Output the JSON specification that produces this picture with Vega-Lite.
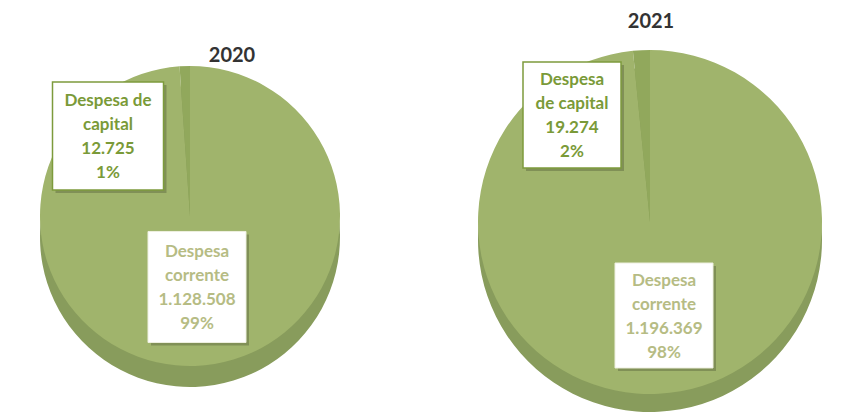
{
  "$schema": "https://vega.github.io/schema/vega-lite/v6.json",
  "background": "white",
  "padding": 0,
  "spacing": 0,
  "config": {"view": {"stroke": null}, "font": "Lato"},
  "datasets": {
    "d": [
      {"year": 2020, "name": "Despesa corrente", "value": 1128508, "label": "Despesa\ncorrente\n1.128.508\n99%"},
      {"year": 2020, "name": "Despesa de capital", "value": 12725, "label": "Despesa de\ncapital\n12.725\n1%"},
      {"year": 2021, "name": "Despesa corrente", "value": 1196369, "label": "Despesa\ncorrente\n1.196.369\n98%"},
      {"year": 2021, "name": "Despesa de capital", "value": 19274, "label": "Despesa\nde capital\n19.274\n2%"}
    ]
  },
  "hconcat": [
    {
      "width": 400,
      "height": 414,
      "data": {"name": "d"},
      "transform": [{"filter": "datum.year == 2020"}],
      "layer": [
        {
          "mark": {"type": "arc", "radius": 150, "xOffset": -10, "yOffset": 30, "color": "#889c5c"},
          "encoding": {
            "theta": {"field": "value", "type": "quantitative", "stack": true},
            "order": {"field": "name", "sort": "ascending"}
          }
        },
        {
          "mark": {"type": "arc", "radius": 150, "xOffset": -10, "yOffset": 9},
          "encoding": {
            "theta": {"field": "value", "type": "quantitative", "stack": true},
            "order": {"field": "name", "sort": "ascending"},
            "color": {"field": "name", "type": "nominal", "scale": {"range": ["#a0b46c", "#91a85c"]}, "legend": null}
          }
        },
        {
          "transform": [{"filter": "datum.name == 'Despesa de capital'"}],
          "mark": {"type": "text", "text": "2020", "fontSize": 20, "fontWeight": "bold", "color": "#333333", "xOffset": 32, "yOffset": -151},
          "encoding": {}
        },
        {
          "transform": [{"filter": "datum.name == 'Despesa de capital'"}],
          "mark": {"type": "point", "shape": "M-1,-0.973H1V0.973H-1Z", "size": 12321, "filled": true, "color": "#000000", "opacity": 0.2, "xOffset": -89, "yOffset": -68},
          "encoding": {}
        },
        {
          "transform": [{"filter": "datum.name == 'Despesa de capital'"}],
          "mark": {"type": "point", "shape": "M-1,-0.973H1V0.973H-1Z", "size": 12321, "filled": true, "fill": "#ffffff", "opacity": 1, "stroke": "#7d9b3c", "strokeWidth": 1.5, "xOffset": -92, "yOffset": -71},
          "encoding": {}
        },
        {
          "transform": [{"filter": "datum.name == 'Despesa de capital'"}],
          "mark": {"type": "text", "fontSize": 17, "fontWeight": "bold", "color": "#7a9a38", "lineBreak": "\n", "lineHeight": 24, "baseline": "middle", "align": "center", "xOffset": -92, "yOffset": -106},
          "encoding": {"text": {"field": "label", "type": "nominal"}}
        },
        {
          "transform": [{"filter": "datum.name == 'Despesa corrente'"}],
          "mark": {"type": "point", "shape": "M-1,-1.133H1V1.133H-1Z", "size": 9604, "filled": true, "color": "#000000", "opacity": 0.2, "xOffset": 0, "yOffset": 83},
          "encoding": {}
        },
        {
          "transform": [{"filter": "datum.name == 'Despesa corrente'"}],
          "mark": {"type": "point", "shape": "M-1,-1.133H1V1.133H-1Z", "size": 9604, "filled": true, "fill": "#ffffff", "opacity": 1, "stroke": "#eef0e0", "strokeWidth": 1, "xOffset": -3, "yOffset": 80},
          "encoding": {}
        },
        {
          "transform": [{"filter": "datum.name == 'Despesa corrente'"}],
          "mark": {"type": "text", "fontSize": 17, "fontWeight": "bold", "color": "#b6bc84", "lineBreak": "\n", "lineHeight": 24, "baseline": "middle", "align": "center", "xOffset": -3, "yOffset": 45},
          "encoding": {"text": {"field": "label", "type": "nominal"}}
        }
      ]
    },
    {
      "width": 449,
      "height": 414,
      "data": {"name": "d"},
      "transform": [{"filter": "datum.year == 2021"}],
      "layer": [
        {
          "mark": {"type": "arc", "radius": 172, "xOffset": 25.5, "yOffset": 33, "color": "#889c5c"},
          "encoding": {
            "theta": {"field": "value", "type": "quantitative", "stack": true},
            "order": {"field": "name", "sort": "ascending"}
          }
        },
        {
          "mark": {"type": "arc", "radius": 172, "xOffset": 25.5, "yOffset": 15},
          "encoding": {
            "theta": {"field": "value", "type": "quantitative", "stack": true},
            "order": {"field": "name", "sort": "ascending"},
            "color": {"field": "name", "type": "nominal", "scale": {"range": ["#a0b46c", "#91a85c"]}, "legend": null}
          }
        },
        {
          "transform": [{"filter": "datum.name == 'Despesa de capital'"}],
          "mark": {"type": "text", "text": "2021", "fontSize": 20, "fontWeight": "bold", "color": "#333333", "xOffset": 26.5, "yOffset": -185},
          "encoding": {}
        },
        {
          "transform": [{"filter": "datum.name == 'Despesa de capital'"}],
          "mark": {"type": "point", "shape": "M-1,-1.082H1V1.082H-1Z", "size": 9604, "filled": true, "color": "#000000", "opacity": 0.2, "xOffset": -49.5, "yOffset": -89},
          "encoding": {}
        },
        {
          "transform": [{"filter": "datum.name == 'Despesa de capital'"}],
          "mark": {"type": "point", "shape": "M-1,-1.082H1V1.082H-1Z", "size": 9604, "filled": true, "fill": "#ffffff", "opacity": 1, "stroke": "#7d9b3c", "strokeWidth": 1.5, "xOffset": -52.5, "yOffset": -92},
          "encoding": {}
        },
        {
          "transform": [{"filter": "datum.name == 'Despesa de capital'"}],
          "mark": {"type": "text", "fontSize": 17, "fontWeight": "bold", "color": "#7a9a38", "lineBreak": "\n", "lineHeight": 24, "baseline": "middle", "align": "center", "xOffset": -52.5, "yOffset": -127},
          "encoding": {"text": {"field": "label", "type": "nominal"}}
        },
        {
          "transform": [{"filter": "datum.name == 'Despesa corrente'"}],
          "mark": {"type": "point", "shape": "M-1,-1.071H1V1.071H-1Z", "size": 9604, "filled": true, "color": "#000000", "opacity": 0.2, "xOffset": 42.5, "yOffset": 111.5},
          "encoding": {}
        },
        {
          "transform": [{"filter": "datum.name == 'Despesa corrente'"}],
          "mark": {"type": "point", "shape": "M-1,-1.071H1V1.071H-1Z", "size": 9604, "filled": true, "fill": "#ffffff", "opacity": 1, "stroke": "#eef0e0", "strokeWidth": 1, "xOffset": 39.5, "yOffset": 108.5},
          "encoding": {}
        },
        {
          "transform": [{"filter": "datum.name == 'Despesa corrente'"}],
          "mark": {"type": "text", "fontSize": 17, "fontWeight": "bold", "color": "#b6bc84", "lineBreak": "\n", "lineHeight": 24, "baseline": "middle", "align": "center", "xOffset": 39.5, "yOffset": 73.5},
          "encoding": {"text": {"field": "label", "type": "nominal"}}
        }
      ]
    }
  ]
}
